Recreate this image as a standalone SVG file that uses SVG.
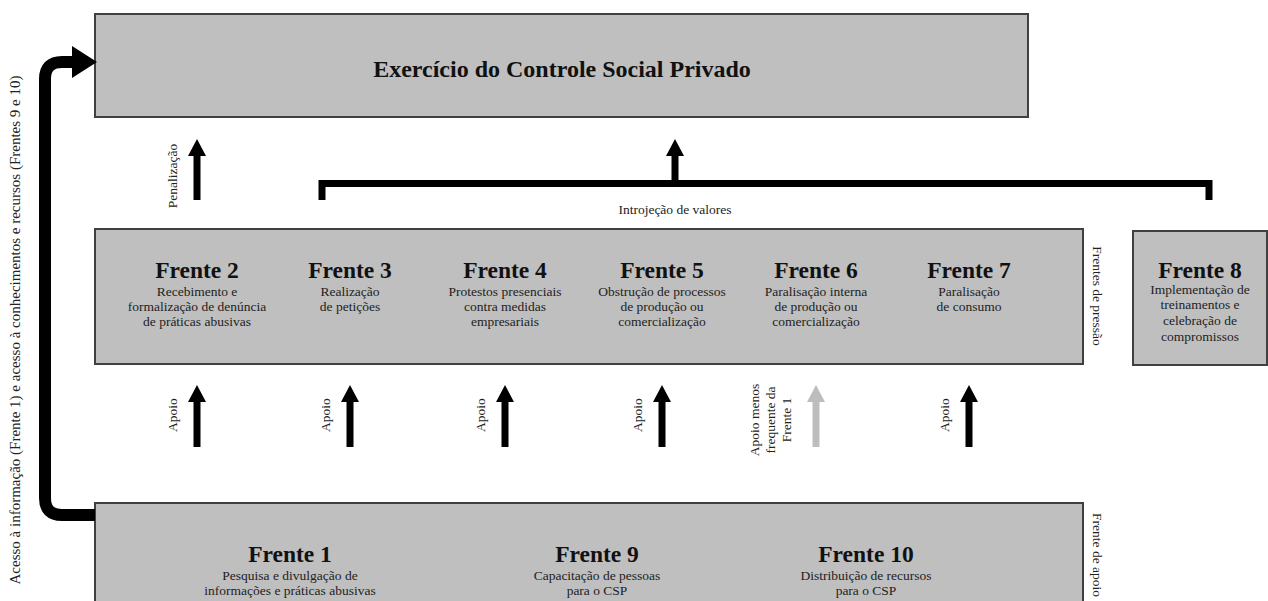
<svg xmlns="http://www.w3.org/2000/svg" width="1268" height="601" viewBox="0 0 1268 601">
<style>
.box{fill:#bfbfbf;stroke:#404040;stroke-width:2}
.h{font-family:"Liberation Serif",serif;font-weight:bold;font-size:23.5px;fill:#111;text-anchor:middle}
.t{font-family:"Liberation Serif",serif;font-size:13.5px;fill:#222;text-anchor:middle}
.lab{font-family:"Liberation Serif",serif;font-size:13.5px;fill:#222;text-anchor:middle}
.arr{fill:#000}
.arrg{fill:#bdbdbd}
.thick{fill:none;stroke:#000;stroke-width:12}
.brk{fill:none;stroke:#000;stroke-width:7}
</style>
<rect width="1268" height="601" fill="#fff"/>
<text class="lab" style="font-size:15px" transform="translate(20,330) rotate(-90)">Acesso à informação (Frente 1) e acesso à conhecimentos e recursos  (Frentes 9 e 10)</text>
<g id="n-csp">
<rect class="box" x="95" y="14" width="933" height="103"/>
<text x="562" y="77" style="font-family:'Liberation Serif',serif;font-weight:bold;font-size:24px;fill:#111;text-anchor:middle">Exercício do Controle Social Privado</text>
</g>
<g id="n-pressao">
<rect class="box" x="95" y="229" width="988" height="135"/>
<text class="h" x="197" y="278">Frente 2</text>
<text class="t" x="197" y="296">Recebimento e</text>
<text class="t" x="197" y="311">formalização de denúncia</text>
<text class="t" x="197" y="326">de práticas abusivas</text>
<text class="h" x="350" y="278">Frente 3</text>
<text class="t" x="350" y="296">Realização</text>
<text class="t" x="350" y="311">de petições</text>
<text class="h" x="505" y="278">Frente 4</text>
<text class="t" x="505" y="296">Protestos presenciais</text>
<text class="t" x="505" y="311">contra medidas</text>
<text class="t" x="505" y="326">empresariais</text>
<text class="h" x="662" y="278">Frente 5</text>
<text class="t" x="662" y="296">Obstrução de processos</text>
<text class="t" x="662" y="311">de produção ou</text>
<text class="t" x="662" y="326">comercialização</text>
<text class="h" x="816" y="278">Frente 6</text>
<text class="t" x="816" y="296">Paralisação interna</text>
<text class="t" x="816" y="311">de produção ou</text>
<text class="t" x="816" y="326">comercialização</text>
<text class="h" x="969" y="278">Frente 7</text>
<text class="t" x="969" y="296">Paralisação</text>
<text class="t" x="969" y="311">de consumo</text>
</g>
<text class="lab" transform="translate(1093,296) rotate(90)">Frentes de pressão</text>
<g id="n-frente8">
<rect class="box" x="1133" y="231" width="134" height="134"/>
<text class="h" x="1200" y="278">Frente 8</text>
<text class="t" x="1200" y="294">Implementação de</text>
<text class="t" x="1200" y="309">treinamentos e</text>
<text class="t" x="1200" y="325">celebração de</text>
<text class="t" x="1200" y="341">compromissos</text>
</g>
<g id="n-apoio">
<rect class="box" x="95" y="503" width="988" height="110"/>
<text class="h" x="290" y="562">Frente 1</text>
<text class="t" x="290" y="580">Pesquisa e divulgação de</text>
<text class="t" x="290" y="595">informações e práticas abusivas</text>
<text class="h" x="597" y="562">Frente 9</text>
<text class="t" x="597" y="580">Capacitação de pessoas</text>
<text class="t" x="597" y="595">para o CSP</text>
<text class="h" x="866" y="562">Frente 10</text>
<text class="t" x="866" y="580">Distribuição de recursos</text>
<text class="t" x="866" y="595">para o CSP</text>
</g>
<text class="lab" transform="translate(1093,555) rotate(90)">Frente de apoio</text>
<g id="connectors">
<path class="thick" d="M95,515 H62 Q45,515 45,498 V79 Q45,62 62,62 H76"/>
<polygon class="arr" points="72,46 97,62 72,78"/>
<polygon class="arr" points="193.5,200 193.5,156 188,156 197,139 206,156 200.5,156 200.5,200"/>
<text class="lab" transform="translate(177,176) rotate(-90)">Penalização</text>
<path class="brk" d="M322,200 V183.5 H1209 V200"/>
<polygon class="arr" points="671.5,184 671.5,156 666,156 675,139 684,156 678.5,156 678.5,184"/>
<text class="lab" x="675" y="214">Introjeção de valores</text>
<polygon class="arr" points="193.5,447 193.5,402 188,402 197,385 206,402 200.5,402 200.5,447"/>
<text class="lab" transform="translate(177,415) rotate(-90)">Apoio</text>
<polygon class="arr" points="346.5,447 346.5,402 341,402 350,385 359,402 353.5,402 353.5,447"/>
<text class="lab" transform="translate(330,415) rotate(-90)">Apoio</text>
<polygon class="arr" points="501.5,447 501.5,402 496,402 505,385 514,402 508.5,402 508.5,447"/>
<text class="lab" transform="translate(485,415) rotate(-90)">Apoio</text>
<polygon class="arr" points="658.5,447 658.5,402 653,402 662,385 671,402 665.5,402 665.5,447"/>
<text class="lab" transform="translate(642,415) rotate(-90)">Apoio</text>
<polygon class="arrg" points="812.5,447 812.5,402 807,402 816,385 825,402 819.5,402 819.5,447"/>
<text class="lab" transform="translate(759,420) rotate(-90)">Apoio menos</text>
<text class="lab" transform="translate(775,420) rotate(-90)">frequente da</text>
<text class="lab" transform="translate(791,420) rotate(-90)">Frente 1</text>
<polygon class="arr" points="965.5,447 965.5,402 960,402 969,385 978,402 972.5,402 972.5,447"/>
<text class="lab" transform="translate(949,415) rotate(-90)">Apoio</text>
</g>
</svg>
